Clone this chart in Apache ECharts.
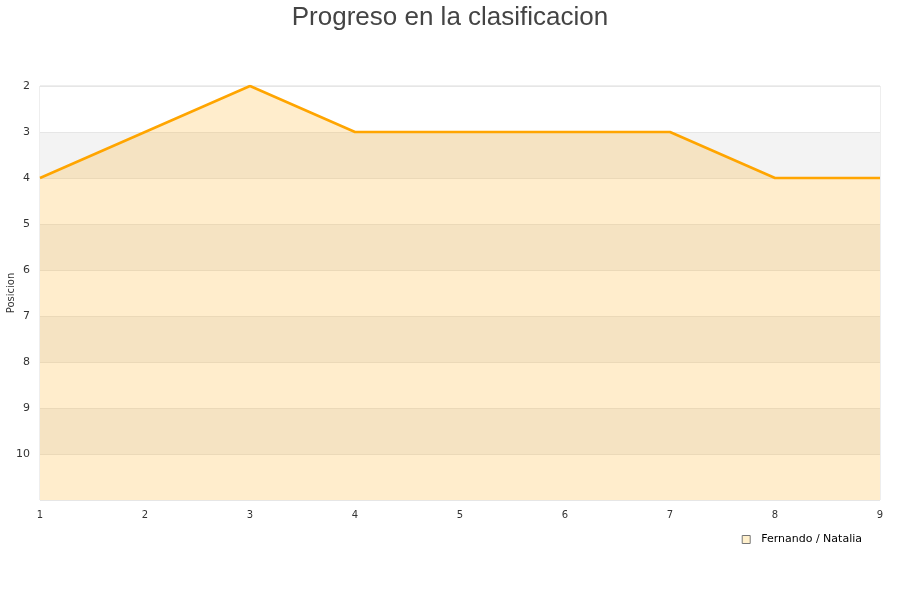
<!DOCTYPE html>
<html><head><meta charset="utf-8">
<script src="https://cdn.jsdelivr.net/npm/echarts@6/dist/echarts.min.js"></script>
<style>html,body{margin:0;padding:0;background:#fff}#c{width:900px;height:600px}</style>
</head><body><div id="c"></div>
<script>
const categories = ['1','2','3','4','5','6','7','8','9'];
const seriesName = 'Fernando / Natalia';
const positions = [4,3,2,3,3,3,3,4,4];
const yMin = 2, yMax = 11;

const chart = echarts.init(document.getElementById('c'));
chart.setOption({
  animation: false,
  title: { text: 'Progreso en la clasificacion', left: 'center', top: 0,
    textStyle: { fontFamily: 'Liberation Sans, Arial, sans-serif', fontSize: 26, fontWeight: 'normal', color: '#444' } },
  grid: { left: 40, right: 20, top: 86, bottom: 100, show: true, borderColor: '#dddddd', borderWidth: 1, backgroundColor: '#fff',
    containLabel: false, outerBoundsMode: 'none' },
  legend: { right: 33, top: 529, itemWidth: 8, itemHeight: 8, icon: 'rect',
    textStyle: { fontFamily: 'DejaVu Sans, sans-serif', fontSize: 11, color: '#000', padding: [0,0,0,6] },
    data: [{ name: seriesName, itemStyle: { color: '#fff0cc', borderColor: '#777', borderWidth: 1 } }] },
  xAxis: { type: 'category', data: categories, boundaryGap: false,
    axisLine: { show: false }, axisTick: { show: false },
    axisLabel: { fontFamily: 'DejaVu Sans, sans-serif', fontSize: 10, color: '#333', margin: 10 },
    splitLine: { show: false } },
  yAxis: { type: 'value', inverse: true, min: yMin, max: yMax, interval: 1,
    name: 'Posicion', nameLocation: 'middle', nameGap: 24, nameRotate: 90, nameMoveOverlap: false,
    nameTextStyle: { fontFamily: 'DejaVu Sans, sans-serif', fontSize: 10, color: '#333' },
    axisLine: { show: false }, axisTick: { show: false },
    axisLabel: { fontFamily: 'DejaVu Sans, sans-serif', fontSize: 11, color: '#333', margin: 10,
      formatter: v => (v === yMax ? '' : String(v)) },
    splitLine: { show: true, lineStyle: { color: '#e6e6e6' } },
    splitArea: { show: true, areaStyle: { color: ['#ffffff', '#f3f3f3'] } } },
  series: [{ name: seriesName, type: 'line', data: positions, symbol: 'none',
    lineStyle: { color: '#ffa500', width: 2.5 }, itemStyle: { color: '#ffa500' },
    areaStyle: { color: '#ffa500', opacity: 0.2, origin: 'end' } }]
});
</script></body></html>
